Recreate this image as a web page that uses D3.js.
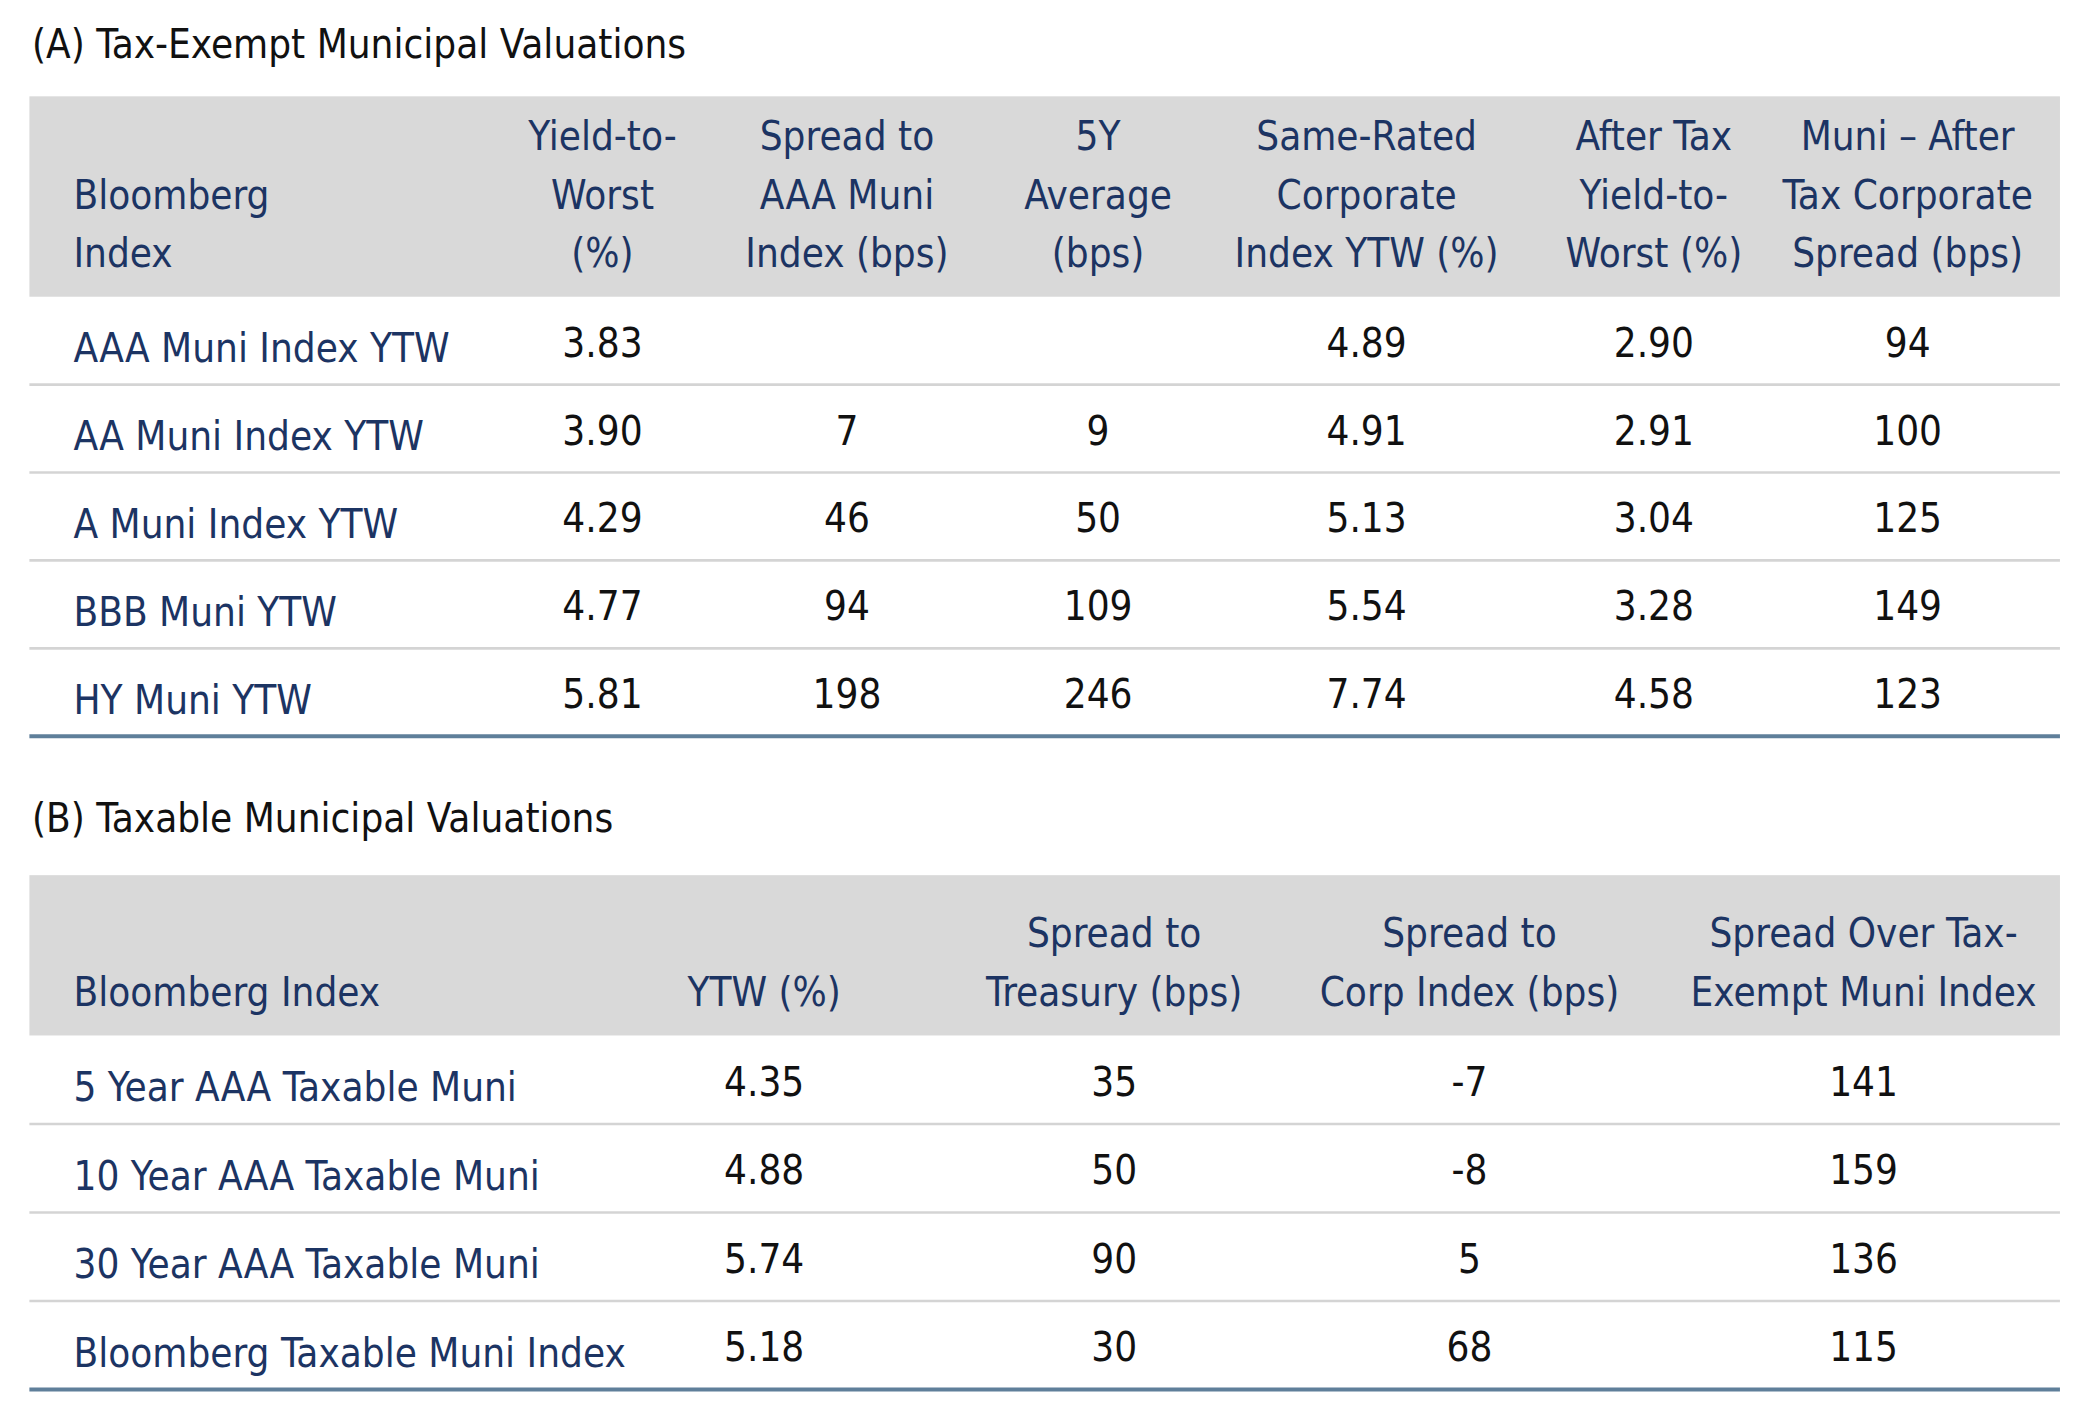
<!DOCTYPE html>
<html><head><meta charset="utf-8">
<script src="https://cdn.jsdelivr.net/npm/d3@7"></script>
<style>body{margin:0;background:#fff}svg{display:block}text{font-family:"Liberation Sans Narrow","DejaVu Sans Condensed","Open Sans",sans-serif}</style>
</head><body><div id="c"></div>
<script>
const titleA = "(A) Tax-Exempt Municipal Valuations";
const headersA = [["Bloomberg","Index"],["Yield-to-","Worst","(%)"],["Spread to","AAA Muni","Index (bps)"],["5Y","Average","(bps)"],["Same-Rated","Corporate","Index YTW (%)"],["After Tax","Yield-to-","Worst (%)"],["Muni – After","Tax Corporate","Spread (bps)"]];
const rowsA = ["AAA Muni Index YTW","AA Muni Index YTW","A Muni Index YTW","BBB Muni YTW","HY Muni YTW"];
const ytwA = ["3.83","3.90","4.29","4.77","5.81"];
const spreadAAA = ["","7","46","94","198"];
const avg5y = ["","9","50","109","246"];
const corpYTW = ["4.89","4.91","5.13","5.54","7.74"];
const afterTax = ["2.90","2.91","3.04","3.28","4.58"];
const muniSpread = ["94","100","125","149","123"];

const titleB = "(B) Taxable Municipal Valuations";
const headersB = [["Bloomberg Index"],["YTW (%)"],["Spread to","Treasury (bps)"],["Spread to","Corp Index (bps)"],["Spread Over Tax-","Exempt Muni Index"]];
const rowsB = ["5 Year AAA Taxable Muni","10 Year AAA Taxable Muni","30 Year AAA Taxable Muni","Bloomberg Taxable Muni Index"];
const ytwB = ["4.35","4.88","5.74","5.18"];
const spreadTsy = ["35","50","90","30"];
const spreadCorp = ["-7","-8","5","68"];
const spreadMuni = ["141","159","136","115"];

const W=1560,H=1053;
const svg=d3.select("#c").append("svg").attr("width",2084).attr("height",1407).attr("viewBox",`0 0 ${W} ${H}`);
const navy="#1c3463", fs=30, lh=44;

function table(title,titleY,headers,rows,cols,colX,hTop,hBot,bottom){
  svg.append("text").attr("x",24).attr("y",titleY).attr("font-size",30).attr("fill","#111").text(title);
  svg.append("rect").attr("x",22).attr("y",hTop).attr("width",1520).attr("height",hBot-hTop).attr("fill","#d9d9d9");
  const x=d3.scaleOrdinal().domain(d3.range(headers.length)).range(colX);
  headers.forEach((h,i)=>{
    const n=h.length, base=hBot-22-(n-1)*lh;
    h.forEach((ln,j)=>svg.append("text").attr("x",x(i)).attr("y",base+j*lh).attr("font-size",fs)
      .attr("fill",navy).attr("text-anchor",i===0?"start":"middle").text(ln));
  });
  const y=d3.scaleBand().domain(rows).range([hBot,bottom]);
  rows.forEach((r,k)=>{
    const cy=y(r)+y.bandwidth()/2+12;
    svg.append("text").attr("x",x(0)).attr("y",cy+4).attr("font-size",fs).attr("fill",navy).text(r);
    cols.forEach((c,i)=>svg.append("text").attr("x",x(i+1)).attr("y",cy).attr("font-size",fs).attr("fill","#111")
      .attr("text-anchor","middle").text(c[k]));
    if(k<rows.length-1) svg.append("line").attr("x1",22).attr("x2",1542).attr("y1",y(r)+y.bandwidth()).attr("y2",y(r)+y.bandwidth()).attr("stroke","#d4d4d4").attr("stroke-width",2);
  });
  svg.append("line").attr("x1",22).attr("x2",1542).attr("y1",bottom).attr("y2",bottom).attr("stroke","#5f7f9a").attr("stroke-width",3);
}
table(titleA,43,headersA,rowsA,[ytwA,spreadAAA,avg5y,corpYTW,afterTax,muniSpread],[55,451,634,822,1023,1238,1428],72,222,551);
table(titleB,623,headersB,rowsB,[ytwB,spreadTsy,spreadCorp,spreadMuni],[55,572,834,1100,1395],655,775,1040);
</script></body></html>
